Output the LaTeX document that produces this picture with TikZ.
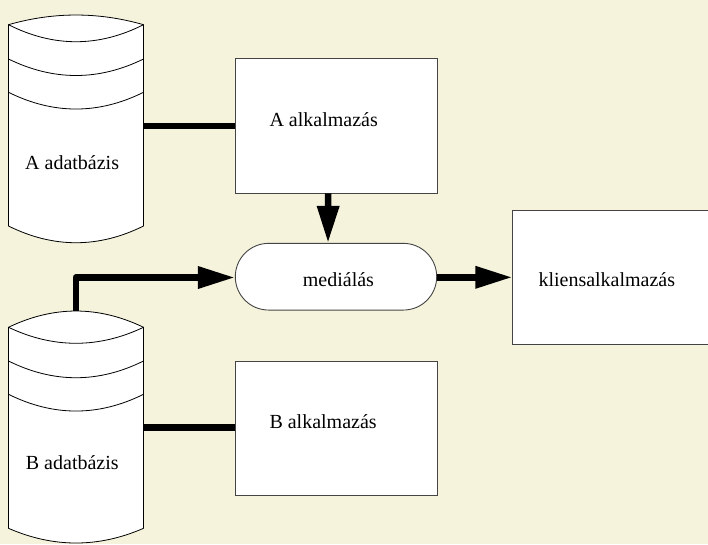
\documentclass[tikz,border=0pt]{standalone}
\usepackage{fontspec}
\setmainfont{Liberation Serif}
\usetikzlibrary{arrows.meta}
\definecolor{bgbeige}{HTML}{F5F3DC}
\definecolor{boxline}{HTML}{444444}
\tikzset{
  cylline/.style={draw=black, line width=0.8pt},
  appbox/.style={draw=boxline, fill=white, line width=0.9pt, inner sep=0pt},
  lbl/.style={anchor=base west, inner sep=0pt, font=\fontsize{20}{24}\selectfont},
  link/.style={line width=6.5pt, line join=round},
  flow/.style={line width=6.5pt, line join=round, -{Triangle[length=37pt,width=21pt]}},
}
\begin{document}
\begin{tikzpicture}[x=1pt,y=-1pt]
\useasboundingbox (0,0) rectangle (708,544);
\fill[bgbeige] (0,0) rectangle (708,544);

\node[inner sep=0pt, minimum size=0pt] (dbBtop) at (75.8,311) {};

% Cylinder A
\filldraw[cylline, fill=white] (8.5,24.7) .. controls (53.5,11.8) and (98.5,11.8) .. (143.5,24.7) -- (143.5,226)
  .. controls (98.5,248.3) and (53.5,248.3) .. (8.5,226) -- cycle;
\draw[cylline] (8.5,24.7) .. controls (53.5,47.4) and (98.5,47.4) .. (143.5,24.7);
\draw[cylline] (8.5,59) .. controls (53.5,81) and (98.5,81) .. (143.5,59);
\draw[cylline] (8.5,92.3) .. controls (53.5,114.6) and (98.5,114.6) .. (143.5,92.3);
\node[inner sep=0pt, minimum width=135pt, minimum height=201.3pt] (dbA) at (76,125.35) {};
\node[lbl] (dbAt) at (25,169) {A adatbázis};

% Cylinder B
\filldraw[cylline, fill=white] (8.5,327.3) .. controls (53.5,305.6) and (98.5,305.6) .. (143.5,327.3) -- (143.5,528.3)
  .. controls (98.5,547.9) and (53.5,547.9) .. (8.5,528.3) -- cycle;
\draw[cylline] (8.5,327.3) .. controls (53.5,348.6) and (98.5,348.6) .. (143.5,327.3);
\draw[cylline] (8.5,361) .. controls (53.5,383.3) and (98.5,383.3) .. (143.5,361);
\draw[cylline] (8.5,394.3) .. controls (53.5,416.6) and (98.5,416.6) .. (143.5,394.3);
\node[inner sep=0pt, minimum width=135pt, minimum height=201pt] (dbB) at (76,427.8) {};
\node[lbl] (dbBt) at (25.7,469.3) {B adatbázis};

% Boxes
\node[appbox, minimum width=201.7pt, minimum height=134.3pt] (appA) at (336.2,125.85) {};
\node[lbl] (appAt) at (269.3,126) {A alkalmazás};
\node[appbox, minimum width=201.7pt, minimum height=133.7pt] (appB) at (336.2,428.15) {};
\node[lbl] (appBt) at (269.3,428.3) {B alkalmazás};
\node[appbox, rounded corners=33.3pt, minimum width=201.4pt, minimum height=66.7pt] (med) at (336,276.7) {};
\node[lbl] (medt) at (302.7,286) {mediálás};
\node[appbox, anchor=north west, minimum width=200pt, minimum height=134pt] (cli) at (512.3,210) {};
\node[lbl] (clit) at (538.3,286) {kliensalkalmazás};

% Connectors
\draw[link] (dbA.east |- 0,126) -- (appA.west |- 0,126);
\draw[link] (dbB.east |- 0,427.7) -- (appB.west |- 0,427.7);
\draw[flow] ([xshift=-8pt]appA.south) -- ([xshift=-8pt]med.north);
\draw[flow] (dbBtop.center) -- (75.8,277.5) -- (med.west |- 0,277.5);
\draw[flow] (med.east |- 0,277.3) -- (cli.west |- 0,277.3);
\end{tikzpicture}
\end{document}
